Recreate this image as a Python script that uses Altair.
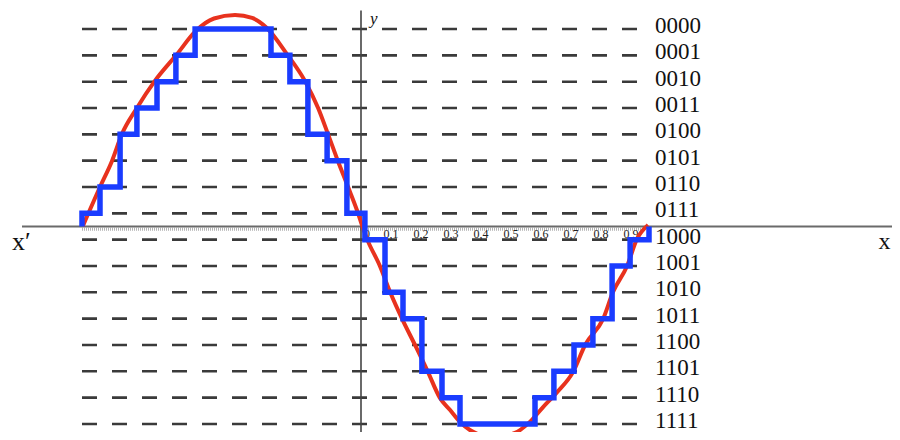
import altair as alt
import pandas as pd

# ---- data ----
codes = ["0000", "0001", "0010", "0011", "0100", "0101", "0110", "0111",
         "1000", "1001", "1010", "1011", "1100", "1101", "1110", "1111"]
code_levels = [7.5 - k for k in range(16)]

tick_values = [0.02, 0.1, 0.2, 0.3, 0.4, 0.5, 0.6, 0.7, 0.8, 0.9]
tick_labels = ["0", "0,1", "0,2", "0,3", "0,4", "0,5", "0,6", "0,7", "0,8", "0,9"]

# analogue signal (red)
sig_x = [-0.927, -0.870, -0.830, -0.797, -0.747, -0.687, -0.613, -0.553, -0.490,
         -0.420, -0.363, -0.313, -0.247, -0.187, -0.143, -0.110, -0.077, -0.043,
         -0.010, 0.003, 0.020, 0.063, 0.097, 0.137, 0.180, 0.223, 0.263, 0.297,
         0.330, 0.363, 0.440, 0.513, 0.563, 0.607, 0.653, 0.707, 0.747, 0.807,
         0.840, 0.887, 0.920, 0.957]
sig_y = [0.02, 1.50, 2.49, 3.51, 4.50, 5.53, 6.55, 7.40, 7.90,
         8.03, 7.92, 7.53, 6.55, 5.53, 4.50, 3.51, 2.49, 1.50,
         0.51, 0.06, -0.47, -1.50, -2.49, -3.51, -4.50, -5.52, -6.51, -6.97,
         -7.42, -7.73, -8.00, -7.84, -7.42, -6.86, -6.30, -5.52, -4.50, -3.51,
         -2.49, -1.50, -0.47, 0.06]

# quantised signal (blue): sample instants and code index held from there
step_x = [-0.930, -0.870, -0.803, -0.747, -0.680, -0.617, -0.553, -0.300,
          -0.237, -0.177, -0.113, -0.047, 0.013, 0.080, 0.140, 0.203,
          0.270, 0.330, 0.580, 0.643, 0.710, 0.773, 0.837, 0.897]
step_code = [7, 6, 4, 3, 2, 1, 0, 1,
             2, 4, 5, 7, 8, 10, 11, 13,
             14, 15, 14, 13, 12, 11, 9, 8]
step_end_x = 0.960

# ---- tables ----
sig_df = pd.DataFrame({"x": sig_x, "y": sig_y, "i": range(len(sig_x))})

bx, by = [step_x[0]], [0.0]
for j, (sx, c) in enumerate(zip(step_x, step_code)):
    lvl = 7.5 - c
    bx.append(sx); by.append(lvl)
    nx = step_x[j + 1] if j + 1 < len(step_x) else step_end_x
    bx.append(nx); by.append(lvl)
bx.append(step_end_x); by.append(0.0)
q_df = pd.DataFrame({"x": bx, "y": by, "i": range(len(bx))})

lines_df = pd.DataFrame({"y": code_levels, "x": -0.93, "x2": 0.937,
                         "lx": 0.98, "code": codes})
ticks_df = pd.DataFrame({"x": tick_values, "y": -0.3, "label": tick_labels})

xs = alt.Scale(domain=[-1.17667, 1.77], nice=False, zero=False)
ys = alt.Scale(domain=[-7.8048, 8.2985], nice=False, zero=False)


def X(f):
    return alt.X(f, type="quantitative", scale=xs, axis=None)


def Y(f):
    return alt.Y(f, type="quantitative", scale=ys, axis=None)


dashes = alt.Chart(lines_df).mark_rule(
    color="#3a3a3a", strokeWidth=2.6, strokeDash=[15, 15]
).encode(x=X("x"), x2="x2", y=Y("y"))

codes_txt = alt.Chart(lines_df).mark_text(
    align="left", baseline="middle", font="Liberation Serif", fontSize=23,
    color="#111", dy=-3
).encode(x=X("lx"), y=Y("y"), text="code:N")

axes_df = pd.DataFrame({"x": [-1.13], "x2": [1.79], "y": [0.0]})
x_axis = alt.Chart(axes_df).mark_rule(color="#6a6a6a", strokeWidth=1.8).encode(
    x=X("x"), x2="x2", y=Y("y"))
ruler = alt.Chart(pd.DataFrame({"x": [-0.93], "x2": [0.95], "y": [-0.1]})).mark_rule(
    color="#b5b5b5", strokeWidth=3, strokeDash=[1, 1]
).encode(x=X("x"), x2="x2", y=Y("y"))

yaxis_df = pd.DataFrame({"x": [0.0], "y": [8.2], "y2": [-7.9]})
y_axis = alt.Chart(yaxis_df).mark_rule(color="#444", strokeWidth=1.6).encode(
    x=X("x"), y=Y("y"), y2="y2")

tick_txt = alt.Chart(ticks_df).mark_text(
    align="center", baseline="middle", font="Liberation Serif", fontSize=12,
    color="#222"
).encode(x=X("x"), y=Y("y"), text="label:N")

red = alt.Chart(sig_df).mark_line(
    color="#e8321e", strokeWidth=4, interpolate="monotone"
).encode(x=X("x"), y=Y("y"), order="i:Q")

blue = alt.Chart(q_df).mark_line(
    color="#1a3cff", strokeWidth=5.5, strokeJoin="miter"
).encode(x=X("x"), y=Y("y"), order="i:Q")

lbl_df = pd.DataFrame({"x": [-1.163], "y": [-0.88], "t": ["x\u2032"]})
xlabels = alt.Chart(lbl_df).mark_text(
    align="left", baseline="alphabetic", font="Liberation Serif", fontSize=26,
    color="#111"
).encode(x=X("x"), y=Y("y"), text="t:N")

rlbl_df = pd.DataFrame({"x": [1.765], "y": [-0.85], "t": ["x"]})
xlabel_r = alt.Chart(rlbl_df).mark_text(
    align="right", baseline="alphabetic", font="Liberation Serif", fontSize=24,
    color="#111"
).encode(x=X("x"), y=Y("y"), text="t:N")

ylabel = alt.Chart(pd.DataFrame({"x": [0.03], "y": [7.7], "t": ["y"]})).mark_text(
    align="left", baseline="alphabetic", font="Liberation Serif", fontSize=17,
    fontStyle="italic", color="#111"
).encode(x=X("x"), y=Y("y"), text="t:N")

chart = alt.layer(
    dashes, ruler, x_axis, y_axis, tick_txt, red, blue, codes_txt, xlabels,
    xlabel_r, ylabel
).properties(
    width=884, height=424, padding=0, autosize=alt.AutoSizeParams(type="none")
).configure_view(stroke=None)

chart.save("out.html", embed_options={"renderer": "svg", "actions": False})
